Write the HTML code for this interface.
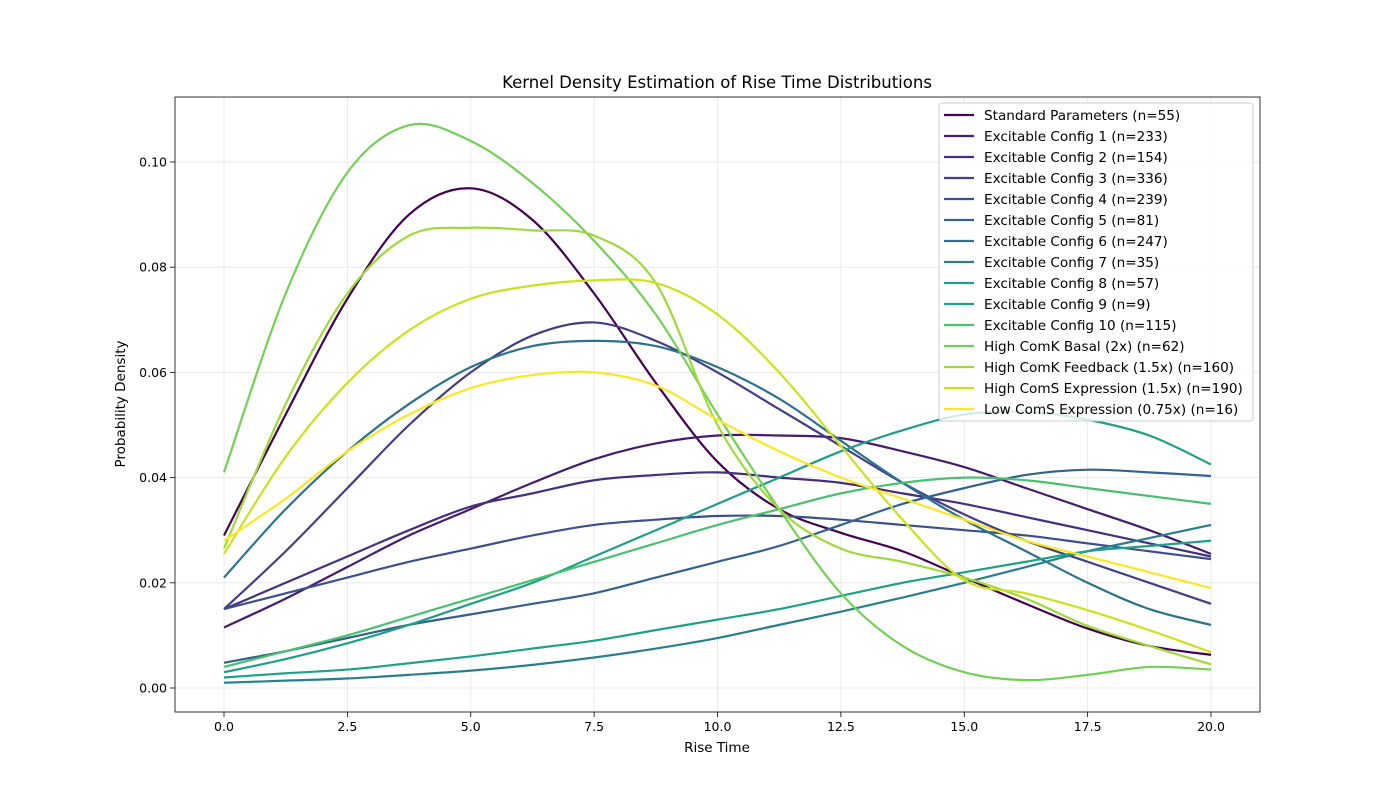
<!DOCTYPE html>
<html><head><meta charset="utf-8"><style>
body{margin:0;background:#fff;font-family:"Liberation Sans","DejaVu Sans",sans-serif}
svg text{font-family:"DejaVu Sans","Liberation Sans",sans-serif}
</style></head><body>
<svg id="chart" width="1400" height="800" xmlns="http://www.w3.org/2000/svg">
<rect width="1400" height="800" fill="#fff"/>
<g id="grid"></g><g id="series"></g><g id="axes"></g><g id="legend"></g>
</svg>
<script>
const xs=[0,1.25,2.5,3.75,5,6.25,7.5,8.75,10,11.25,12.5,13.75,15,16.25,17.5,18.75,20];
const seriesNames=["Standard Parameters (n=55)","Excitable Config 1 (n=233)","Excitable Config 2 (n=154)","Excitable Config 3 (n=336)","Excitable Config 4 (n=239)","Excitable Config 5 (n=81)","Excitable Config 6 (n=247)","Excitable Config 7 (n=35)","Excitable Config 8 (n=57)","Excitable Config 9 (n=9)","Excitable Config 10 (n=115)","High ComK Basal (2x) (n=62)","High ComK Feedback (1.5x) (n=160)","High ComS Expression (1.5x) (n=190)","Low ComS Expression (0.75x) (n=16)"];
const standard=[0.029,0.052,0.074,0.090,0.095,0.089,0.075,0.058,0.043,0.034,0.0295,0.026,0.021,0.016,0.0113,0.008,0.0063];
const config1=[0.0115,0.017,0.023,0.029,0.034,0.039,0.0435,0.0465,0.048,0.048,0.0475,0.045,0.042,0.038,0.034,0.030,0.0255];
const config2=[0.015,0.020,0.025,0.030,0.0345,0.037,0.0395,0.0405,0.041,0.040,0.039,0.037,0.035,0.0325,0.030,0.0275,0.025];
const config3=[0.015,0.026,0.038,0.050,0.060,0.067,0.0695,0.066,0.060,0.053,0.046,0.039,0.033,0.028,0.024,0.020,0.016];
const config4=[0.015,0.018,0.021,0.024,0.0265,0.029,0.031,0.032,0.0327,0.0327,0.032,0.031,0.030,0.029,0.0275,0.026,0.0245];
const config5=[0.0048,0.007,0.0095,0.012,0.014,0.016,0.018,0.021,0.024,0.027,0.031,0.035,0.038,0.0405,0.0415,0.041,0.0403];
const config6=[0.021,0.034,0.045,0.054,0.061,0.065,0.066,0.065,0.061,0.055,0.047,0.039,0.032,0.026,0.020,0.015,0.012];
const config7=[0.001,0.0014,0.0018,0.0025,0.0033,0.0044,0.0058,0.0075,0.0095,0.012,0.0145,0.0172,0.020,0.023,0.026,0.0285,0.031];
const config8=[0.003,0.0055,0.0085,0.012,0.016,0.020,0.025,0.030,0.035,0.040,0.045,0.049,0.052,0.0525,0.051,0.048,0.0425];
const config9=[0.002,0.0028,0.0035,0.0047,0.006,0.0075,0.009,0.011,0.013,0.015,0.0175,0.020,0.022,0.024,0.026,0.027,0.028];
const config10=[0.004,0.007,0.010,0.0135,0.017,0.0205,0.024,0.0275,0.031,0.034,0.037,0.039,0.040,0.0395,0.038,0.0365,0.035];
const comkBasal=[0.041,0.075,0.098,0.107,0.104,0.096,0.085,0.071,0.052,0.034,0.018,0.008,0.003,0.0015,0.0025,0.004,0.0035];
const comkFeedback=[0.0265,0.054,0.075,0.086,0.0875,0.087,0.086,0.077,0.050,0.034,0.0265,0.024,0.021,0.017,0.0118,0.008,0.0045];
const comsHigh=[0.0255,0.044,0.058,0.068,0.074,0.0765,0.0775,0.077,0.071,0.060,0.046,0.032,0.0205,0.018,0.0148,0.011,0.0068];
const comsLow=[0.028,0.036,0.045,0.052,0.057,0.0595,0.060,0.0575,0.051,0.045,0.040,0.036,0.032,0.028,0.025,0.022,0.019];
const allSeries=[standard,config1,config2,config3,config4,config5,config6,config7,config8,config9,config10,comkBasal,comkFeedback,comsHigh,comsLow];
const colors=["#440154","#481b6d","#46307e","#423f85","#3c508b","#33638d","#2c728e","#27808e","#1f9e89","#1fa188","#48c16e","#73d056","#9fda3a","#cde11d","#fde725"];
const xTicks=[0,2.5,5,7.5,10,12.5,15,17.5,20];
const xTickLabels=["0.0","2.5","5.0","7.5","10.0","12.5","15.0","17.5","20.0"];
const yTicks=[0,0.02,0.04,0.06,0.08,0.10];
const yTickLabels=["0.00","0.02","0.04","0.06","0.08","0.10"];

const L=175,R=1260,T=97,B=712;
const sx=v=>224+v*(1211-224)/20;
const sy=v=>688-v*5260;
const NS="http://www.w3.org/2000/svg";
function mk(tag,attrs,parent){const e=document.createElementNS(NS,tag);for(const k in attrs)e.setAttribute(k,attrs[k]);parent.appendChild(e);return e;}
const grid=document.getElementById('grid'),axes=document.getElementById('axes'),ser=document.getElementById('series'),leg=document.getElementById('legend');
xTicks.forEach((t,i)=>{
  const x=sx(t);
  const g=mk('line',{x1:x,x2:x,y1:T,y2:B,stroke:'#e5e5e5','stroke-width':0.8},grid);
  
  
  mk('line',{x1:x,x2:x,y1:B,y2:B+5,stroke:'#000','stroke-width':0.8},axes);
  const tx=mk('text',{x:x,y:B+19,'font-size':12.5,'text-anchor':'middle'},axes);tx.textContent=xTickLabels[i];
  
  
});
yTicks.forEach((t,i)=>{
  const y=sy(t);
  const g=mk('line',{x1:L,x2:R,y1:y,y2:y,stroke:'#e5e5e5','stroke-width':0.8},grid);
  
  
  mk('line',{x1:L-5,x2:L,y1:y,y2:y,stroke:'#000','stroke-width':0.8},axes);
  const tx=mk('text',{x:L-8,y:y+4.5,'font-size':12.5,'text-anchor':'end'},axes);tx.textContent=yTickLabels[i];
  
  
});
const frame=mk('rect',{x:L,y:T,width:R-L,height:B-T,fill:'none',stroke:'#000','stroke-width':0.8},axes);


let t=mk('text',{x:717,y:88,'font-size':16.5,'text-anchor':'middle'},axes);t.textContent="Kernel Density Estimation of Rise Time Distributions";


t=mk('text',{x:717,y:752,'font-size':13.5,'text-anchor':'middle'},axes);t.textContent="Rise Time";


t=mk('text',{x:125,y:404,'font-size':13.5,'text-anchor':'middle',transform:'rotate(-90 125 404)'},axes);t.textContent="Probability Density";



function pathFor(vals){
  const p=xs.map((x,i)=>[sx(x),sy(vals[i])]);
  let d=`M${p[0][0]},${p[0][1]}`;
  for(let i=0;i<p.length-1;i++){
    const p0=p[Math.max(0,i-1)],p1=p[i],p2=p[i+1],p3=p[Math.min(p.length-1,i+2)];
    const c1=[p1[0]+(p2[0]-p0[0])/6,p1[1]+(p2[1]-p0[1])/6];
    const c2=[p2[0]-(p3[0]-p1[0])/6,p2[1]-(p3[1]-p1[1])/6];
    d+=` C${c1[0]},${c1[1]} ${c2[0]},${c2[1]} ${p2[0]},${p2[1]}`;
  }
  return d;
}
allSeries.forEach((vals,i)=>{
  const p=mk('path',{d:pathFor(vals),fill:'none',stroke:colors[i],'stroke-width':2.2},ser);
  
  
});
const box=mk('rect',{x:939,y:103,width:314,height:318,rx:3,fill:'#fff','fill-opacity':0.8,stroke:'#ccc','stroke-width':1},leg);


seriesNames.forEach((n,i)=>{
  const y=115+i*21;
  const l=mk('line',{x1:944,x2:974,y1:y,y2:y,stroke:colors[i],'stroke-width':2.2},leg);
  
  
  const tx=mk('text',{x:984,y:y+4.8,'font-size':13.6},leg);tx.textContent=n;
  
  
});
</script>
</body></html>
